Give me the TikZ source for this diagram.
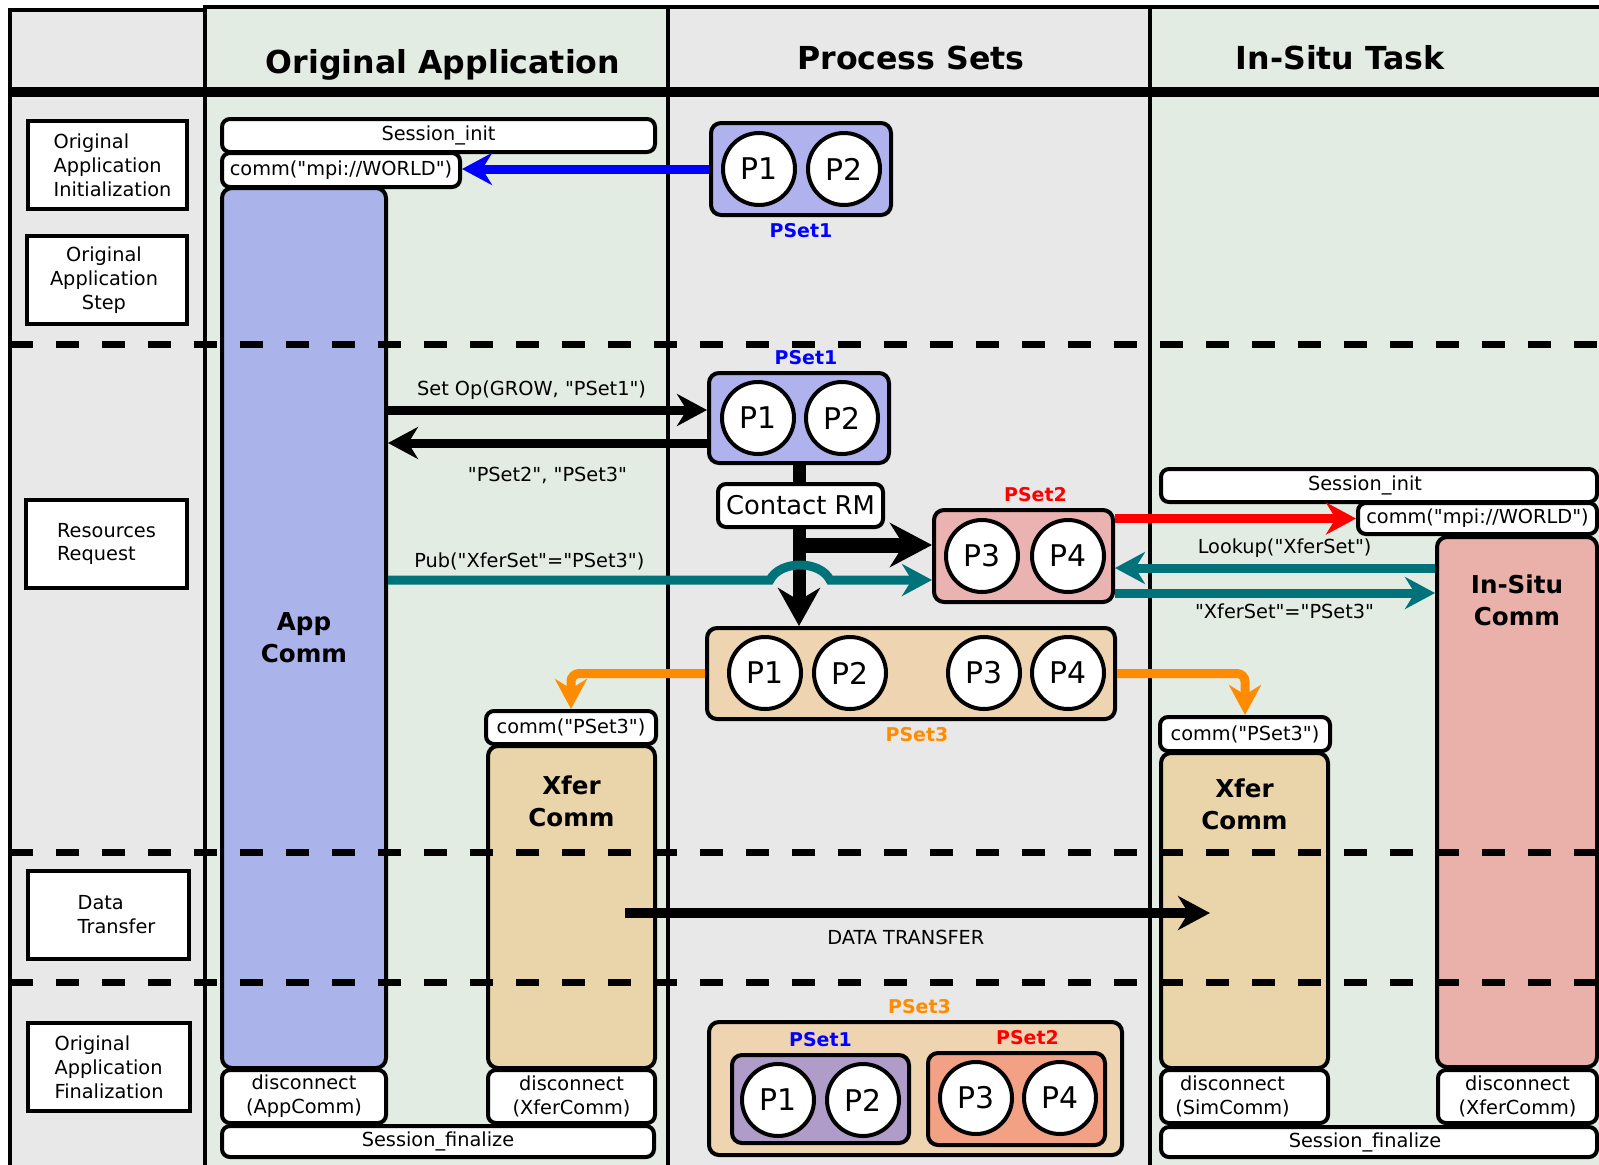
\documentclass[tikz,border=0pt]{standalone}
\usepackage{fontspec}
\setmainfont{DejaVu Sans}[Ligatures=TeXOff]
\usetikzlibrary{arrows.meta,fit}

% one drawing unit
\newlength\pu
\setlength\pu{0.02cm}

\definecolor{lanegray}{HTML}{E8E8E8}
\definecolor{lanegreen}{HTML}{E3ECE3}
\definecolor{appblue}{HTML}{ABB4EA}
\definecolor{setblue}{HTML}{B0B2EE}
\definecolor{setred}{HTML}{EAB2B0}
\definecolor{setorange}{HTML}{EFD4B2}
\definecolor{xfertan}{HTML}{EAD5AB}
\definecolor{situred}{HTML}{E9B1AA}
\definecolor{mixblue}{HTML}{B09CC8}
\definecolor{mixred}{HTML}{F3A185}
\definecolor{pubteal}{HTML}{00727A}
\definecolor{groworange}{HTML}{FF8C00}

\newcommand\fnorm{\fontsize{11}{13.6}\selectfont}
\newcommand\fhead{\bfseries\fontsize{18}{22}\selectfont}
\newcommand\fcomm{\bfseries\fontsize{14}{18}\selectfont}
\newcommand\fset{\bfseries\fontsize{10.8}{13}\selectfont}
\newcommand\fproc{\fontsize{17}{20}\selectfont}
\newcommand\fcontact{\fontsize{14.7}{17}\selectfont}

\begin{document}
\begin{tikzpicture}[x=1\pu,y=-1\pu,
  lanebox/.style={draw, line width=4\pu},
  rowlab/.style={draw, fill=white, line width=4\pu, inner sep=0pt},
  rowtext/.style={font=\fnorm, align=left},
  msg/.style={draw, fill=white, rounded corners=8\pu, line width=4\pu, inner sep=0pt},
  msgtext/.style={font=\fnorm, align=center},
  commbox/.style={draw, rounded corners=10\pu, line width=4\pu, inner sep=0pt},
  commtext/.style={font=\fcomm, align=center},
  setbox/.style={draw, rounded corners=10\pu, line width=4\pu, inner sep=0pt},
  setname/.style={font=\fset},
  proc/.style={circle, draw, fill=white, line width=4\pu, minimum size=72\pu, inner sep=0pt, font=\fproc},
  phase/.style={line width=7\pu, dash pattern=on 23\pu off 23\pu},
  flow/.style={line width=9\pu, -{Stealth[length=0.6cm,width=0.64cm]}},
  lbl/.style={font=\fnorm, text=black}
]
  \clip (0,0) rectangle (1599,1164);
  \fill[white] (0,0) rectangle (1599,1164);

  % swim lanes
  \draw[lanebox, fill=lanegray] (10,10) rectangle (205,1180);
  \draw[lanebox, fill=lanegreen] (205,7) rectangle (668,1180);
  \draw[lanebox, fill=lanegray] (668,7) rectangle (1150,1180);
  \draw[lanebox, fill=lanegreen] (1150,7) rectangle (1620,1180);
  \draw[line width=10\pu] (10,92) -- (1620,92);

  \node[font=\fhead] (hdorig) at (443,65) {Original Application};
  \node[font=\fhead] (hdsets) at (911,58) {Process Sets};
  \node[font=\fhead] (hdsitu) at (1340,58) {In-Situ Task};

  % phase names
  \node[rowlab, fit={(28,121)(187,209)},
    label={[rowtext, xshift=5\pu]center:Original\\Application\\Initialization}] (rowinit) {};
  \node[rowlab, fit={(27,236)(187,324)},
    label={[rowtext, align=center, xshift=-3\pu]center:Original\\Application\\Step}] (rowstep) {};
  \node[rowlab, fit={(26,500)(187,588)},
    label={[rowtext]center:Resources\\Request}] (rowreq) {};
  \node[rowlab, fit={(28,871)(189,959)},
    label={[rowtext, xshift=8\pu]center:Data\\Transfer}] (rowdata) {};
  \node[rowlab, fit={(28,1023)(190,1111)},
    label={[rowtext]center:Original\\Application\\Finalization}] (rowfin) {};

  % original application
  \node[msg, fit={(222,119)(655,152)}, label={[msgtext]center:Session\_init}] (appinit) {};
  \node[msg, fit={(222,153)(460,187)}, label={[msgtext]center:comm("mpi://WORLD")}] (appworld) {};
  \node[commbox, fill=appblue, fit={(222,188)(386,1068)},
    label={[commtext, yshift=-10\pu]center:App\\Comm}] (appcomm) {};
  \node[msg, fit={(222,1070)(386,1123)}, label={[msgtext]center:disconnect\\(AppComm)}] (appdisc) {};
  \node[msg, fit={(222,1126)(654,1157)}, label={[msgtext]center:Session\_finalize}] (appfin) {};
  \node[msg, fit={(486,711)(656,744)}, label={[msgtext]center:comm("PSet3")}] (xferlcomm) {};
  \node[commbox, fill=xfertan, fit={(488,746)(655,1068)},
    label={[commtext, anchor=north, yshift=-26\pu]north:Xfer\\Comm}] (xferl) {};
  \node[msg, fit={(488,1070)(655,1123)}, label={[msgtext]center:disconnect\\(XferComm)}] (xferldisc) {};

  % in-situ task
  \node[msg, fit={(1161,469)(1597,502)}, label={[msgtext, xshift=-14\pu]center:Session\_init}] (situinit) {};
  \node[msg, fit={(1358,503)(1597,534)}, label={[msgtext]center:comm("mpi://WORLD")}] (situworld) {};
  \node[commbox, fill=situred, fit={(1437,537)(1597,1067)},
    label={[commtext, anchor=north, yshift=-34\pu]north:In-Situ\\Comm}] (situcomm) {};
  \node[msg, fit={(1160,717)(1330,751)}, label={[msgtext]center:comm("PSet3")}] (xferrcomm) {};
  \node[commbox, fill=xfertan, fit={(1161,753)(1328,1068)},
    label={[commtext, anchor=north, yshift=-22\pu]north:Xfer\\Comm}] (xferr) {};
  \node[msg, fit={(1161,1070)(1328,1123)}, label={[msgtext, xshift=-12\pu]center:disconnect\\(SimComm)}] (simdisc) {};
  \node[msg, fit={(1438,1070)(1597,1123)}, label={[msgtext]center:disconnect\\(XferComm)}] (situdisc) {};
  \node[msg, fit={(1161,1127)(1597,1157)}, label={[msgtext, xshift=-14\pu]center:Session\_finalize}] (situfin) {};

  % process sets
  \node[setbox, fill=setblue, fit={(711,123)(891,215)},
    label={[setname, text=blue]below:PSet1}] (seta) {};
  \foreach \n/\x in {1/759,2/844} \node[proc] (seta\n) at (\x,169) {P\n};

  \node[setbox, fill=setblue, fit={(709,373)(889,463)},
    label={[setname, text=blue, xshift=7\pu]above:PSet1}] (setb) {};
  \foreach \n/\x in {1/758,2/842} \node[proc] (setb\n) at (\x,418) {P\n};

  \node[setbox, fill=setred, fit={(934,510)(1113,602)},
    label={[setname, text=red, xshift=12\pu]above:PSet2}] (setc) {};
  \foreach \n/\x in {3/982,4/1068} \node[proc] (setc\n) at (\x,556) {P\n};

  \node[setbox, fill=setorange, fit={(707,628)(1115,719)},
    label={[setname, text=groworange, xshift=6\pu]below:PSet3}] (setd) {};
  \foreach \n/\x in {1/765,2/850,3/984,4/1068} \node[proc] (setd\n) at (\x,673) {P\n};

  \node[setbox, fill=setorange, fit={(709,1022)(1122,1155)},
    label={[setname, text=groworange, xshift=4\pu]above:PSet3}] (sete) {};
  \node[setbox, fill=mixblue, fit={(732,1055)(909,1143)},
    label={[setname, text=blue]above:PSet1}] (setf) {};
  \foreach \n/\x in {1/778,2/863} \node[proc] (setf\n) at (\x,1100) {P\n};
  \node[setbox, fill=mixred, fit={(928,1053)(1105,1145)},
    label={[setname, text=red, xshift=11\pu]above:PSet2}] (setg) {};
  \foreach \n/\x in {3/976,4/1060} \node[proc] (setg\n) at (\x,1098) {P\n};

  % messages
  \draw[flow, blue] (seta.west) -- (seta.west -| appworld.east);
  \draw[flow] ([yshift=8\pu]setb.west -| appcomm.east) -- ([yshift=8\pu]setb.west)
    node[lbl, above, pos=0.45] {Set Op(GROW, "PSet1")};
  \draw[flow] ([yshift=-25\pu]setb.west) -- ([yshift=-25\pu]setb.west -| appcomm.east)
    node[lbl, below, yshift=-14\pu, pos=0.5] {"PSet2", "PSet3"};

  \draw[line width=13\pu, -{Stealth[length=0.76cm,width=0.84cm]}] (setb.south) -- (setb.south |- setd.north);
  \draw[line width=15\pu, -{Stealth[length=0.84cm,width=0.88cm]}]
    ([yshift=11\pu]setc.west -| setb.south) -- ([yshift=11\pu]setc.west);
  \node[msg, fit={(718,484)(883,527)}, label={[font=\fcontact]center:Contact RM}] (contact) {};

  \draw[flow, pubteal] ([yshift=-24\pu]setc.west -| appcomm.east) -- (770,580)
    node[lbl, above, pos=0.37] {Pub("XferSet"="PSet3")}
    .. controls (780,560) and (820,560) .. (830,580) -- ([yshift=-24\pu]setc.west);

  \draw[flow, groworange, rounded corners=8\pu] (setd.west) -| (xferlcomm.north);
  \draw[flow, groworange, rounded corners=8\pu] (setd.east) -| (xferrcomm.north);

  \draw[flow, red] (setc.east |- situworld.west) -- (situworld.west);
  \draw[flow, pubteal] ([yshift=-12\pu]setc.east -| situcomm.west) -- ([yshift=-12\pu]setc.east)
    node[lbl, above, pos=0.47] {Lookup("XferSet")};
  \draw[flow, pubteal] ([yshift=-37\pu]setc.east) -- ([yshift=-37\pu]setc.east -| situcomm.west)
    node[lbl, below, pos=0.53] {"XferSet"="PSet3"};

  \coordinate (dtsend) at (625,913);
  \coordinate (dtrecv) at (1210,913);
  \draw[line width=10\pu, -{Stealth[length=0.64cm,width=0.68cm]}] (dtsend) -- (dtrecv)
    node[lbl, below, yshift=-6\pu, pos=0.48] {DATA TRANSFER};

  % phase separators
  \foreach \yy in {344,852,982} \draw[phase] (10,\yy) -- (1620,\yy);
\end{tikzpicture}
\end{document}
